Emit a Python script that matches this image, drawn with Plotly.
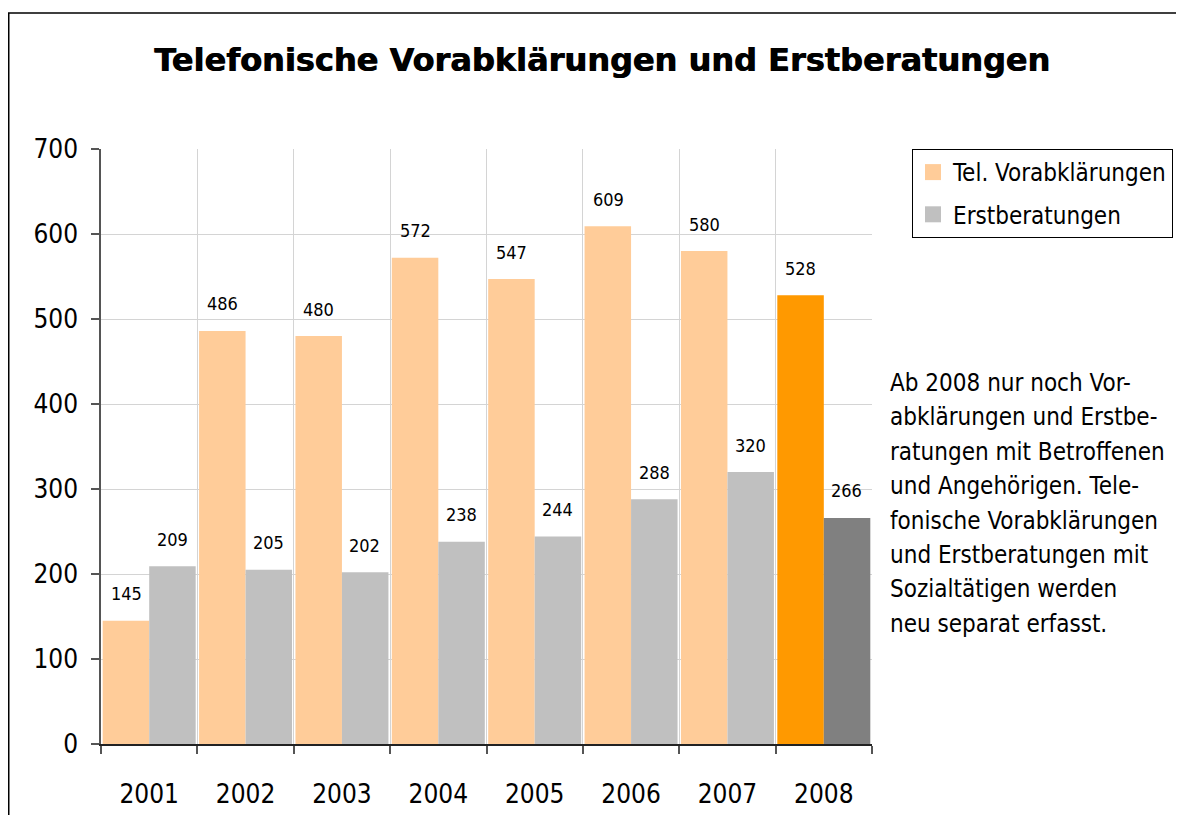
import plotly.graph_objects as go

years = ["2001", "2002", "2003", "2004", "2005", "2006", "2007", "2008"]
tel_vorab = [145, 486, 480, 572, 547, 609, 580, 528]
erstberat = [209, 205, 202, 238, 244, 288, 320, 266]
y_ticks = [0, 100, 200, 300, 400, 500, 600, 700]
note_lines = [
    "Ab 2008 nur noch Vor-",
    "abklärungen und Erstbe-",
    "ratungen mit Betroffenen",
    "und Angehörigen. Tele-",
    "fonische Vorabklärungen",
    "und Erstberatungen mit",
    "Sozialtätigen werden",
    "neu separat erfasst.",
]

tel_colors = ["#FFCC99"] * 7 + ["#FF9900"]
erst_colors = ["#C0C0C0"] * 7 + ["#808080"]

FONT = "DejaVu Sans Condensed, Liberation Sans Narrow, Arial Narrow, sans-serif"
# page has an 8px body margin; figure sized to fit the 1184x823 window
W, H = 1168, 807
ML, MR, MT, MB = 93, 304, 141, 71
PW = W - ML - MR
PH = H - MT - MB

idx = list(range(len(years)))

fig = go.Figure()
fig.add_trace(go.Bar(x=idx, y=tel_vorab, name="Tel. Vorabklärungen",
                     marker=dict(color=tel_colors, line=dict(width=0)), showlegend=False))
fig.add_trace(go.Bar(x=idx, y=erstberat, name="Erstberatungen",
                     marker=dict(color=erst_colors, line=dict(width=0)), showlegend=False))
# legend entries
fig.add_trace(go.Scatter(x=[None], y=[None], mode="markers", name="Tel. Vorabklärungen",
                         legendgroup="a",
                         marker=dict(symbol="square", size=16, color="#FFCC99")))
fig.add_trace(go.Scatter(x=[None], y=[None], mode="markers", name="Erstberatungen",
                         legendgroup="b",
                         marker=dict(symbol="square", size=16, color="#C0C0C0")))
# invisible trace on xaxis2 to hold category labels
fig.add_trace(go.Scatter(x=[None], y=[None], xaxis="x2", showlegend=False, hoverinfo="skip"))

annotations = []
for i in idx:
    annotations.append(dict(x=i, y=tel_vorab[i], xref="x", yref="y", text=str(tel_vorab[i]),
                            showarrow=False, xshift=-23, yshift=27, yanchor="middle",
                            font=dict(family=FONT, size=18, color="#000")))
    annotations.append(dict(x=i, y=erstberat[i], xref="x", yref="y", text=str(erstberat[i]),
                            showarrow=False, xshift=23, yshift=27, yanchor="middle",
                            font=dict(family=FONT, size=18, color="#000")))

for k, line in enumerate(note_lines):
    yc = 375 + k * 34.4
    annotations.append(dict(x=(880 - ML) / PW, y=(H - MB - yc) / PH, xref="paper", yref="paper",
                            text=line, showarrow=False, xanchor="left", yanchor="middle",
                            align="left",
                            font=dict(family=FONT, size=24, color="#000")))

shapes = [dict(type="rect", xref="paper", yref="paper",
               x0=(0.75 - ML) / PW, x1=(W + 20 - ML) / PW,
               y0=(H - MB - (H + 20)) / PH, y1=(H - MB - 5) / PH,
               line=dict(color="#000", width=1.5), fillcolor="rgba(0,0,0,0)", layer="below")]

boundaries = [i - 0.5 for i in range(len(years) + 1)]

fig.update_layout(
    width=W, height=H,
    margin=dict(l=ML, r=MR, t=MT, b=MB, autoexpand=False),
    paper_bgcolor="white", plot_bgcolor="white",
    barmode="group", bargap=0.035, bargroupgap=0,
    title=dict(text="<b>Telefonische Vorabklärungen und Erstberatungen</b>",
               x=594 / W, xref="container", xanchor="center",
               y=1 - 52 / H, yref="container", yanchor="middle",
               font=dict(family="DejaVu Sans", size=32, color="#000",
                         shadow="0.8px 0px 0px #000")),
    xaxis=dict(range=[-0.5, 7.5], tickvals=boundaries, ticktext=[""] * len(boundaries),
               showgrid=True, gridcolor="#D4D4D4", gridwidth=1,
               ticks="outside", ticklen=8, tickcolor="#555", tickwidth=1.5,
               showline=True, linecolor="#222", linewidth=1.5, zeroline=False,
               fixedrange=True),
    xaxis2=dict(range=[-0.5, 7.5], overlaying="x", anchor="y", side="bottom",
                tickvals=idx, ticktext=years, ticks="", showgrid=False, showline=False,
                zeroline=False, ticklabelstandoff=32,
                tickfont=dict(family=FONT, size=26, color="#000")),
    yaxis=dict(range=[0, 700], tickvals=y_ticks, showgrid=True, gridcolor="#D4D4D4", gridwidth=1,
               ticks="outside", ticklen=8, tickcolor="#555", tickwidth=1.5,
               showline=True, linecolor="#555", linewidth=1.5, zeroline=False,
               ticklabelstandoff=8,
               tickfont=dict(family=FONT, size=26, color="#000")),
    legend=dict(x=(904 - ML) / PW, y=1, xref="paper", yref="paper", xanchor="left", yanchor="top",
                bordercolor="#000", borderwidth=1, bgcolor="white",
                font=dict(family=FONT, size=24, color="#000"), tracegroupgap=8,
                itemwidth=30),
    annotations=annotations,
    shapes=shapes,
)

fig.write_html("out.html")
